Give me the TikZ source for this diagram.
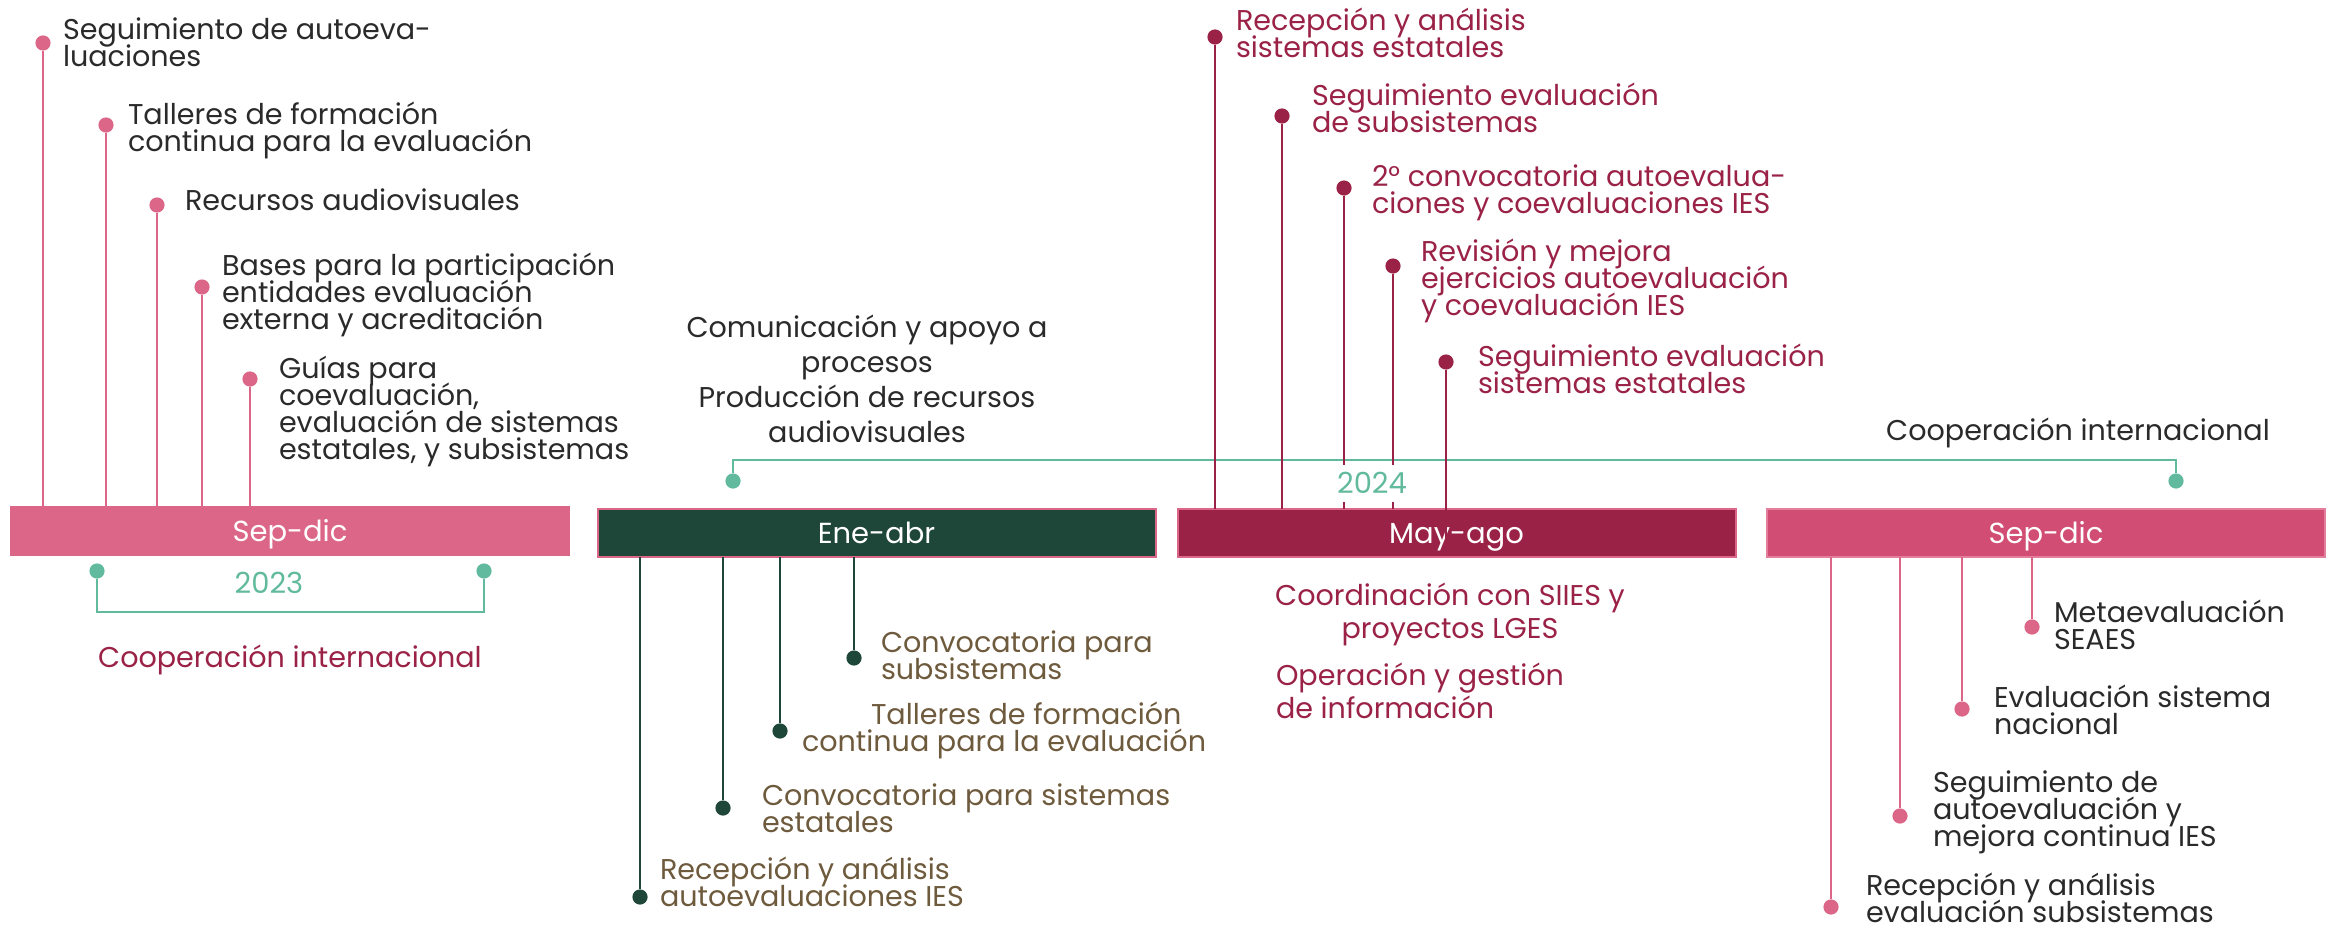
\documentclass[tikz,border=0pt]{standalone}
\usepackage{fontspec}
\setmainfont{Poppins}
\definecolor{pk}{HTML}{DC6688}
\definecolor{pkf}{HTML}{D14D73}
\definecolor{pkb}{HTML}{E37F9C}
\definecolor{mr}{HTML}{9B2247}
\definecolor{dg}{HTML}{1E4639}
\definecolor{gr}{HTML}{62BA9E}
\definecolor{br}{HTML}{6E5A3C}
\definecolor{tx}{HTML}{2A2A2A}
\newcommand\tlsk{\lineskiplimit=-20pt\relax}
\begin{document}
\begin{tikzpicture}[x=0.5pt,y=-0.5pt,
  every node/.style={inner sep=0pt,outer sep=0pt},
  lbl/.style={font=\fontsize{14.3}{13.4}\selectfont\tlsk,align=left,anchor=base west},
  clbl/.style={font=\fontsize{14.3}{17.5}\selectfont\tlsk,align=center,anchor=base},
  one/.style={font=\fontsize{14.3}{13}\selectfont,anchor=base},
  dotn/.style={circle,minimum size=7.6pt,fill=#1},
  barn/.style={rectangle,minimum width=279pt,minimum height=24pt,text=white,font=\fontsize{14.5}{15}\selectfont,text height=10.2pt,text depth=0pt},
  stem/.style={line width=1.25pt,draw=#1},
  conn/.style={line width=1.1pt,draw=gr},
  yr/.style={font=\fontsize{14.5}{15}\selectfont,text=gr,anchor=base}
]
\useasboundingbox[fill=white] (0,0) rectangle (2331,926);

% ---------- Section 1: Sep-dic 2023 ----------
\node[barn,fill=pk,minimum width=280pt,minimum height=25pt] (bar1) at (290,531) {Sep-dic};
\node[dotn=pk] (a1) at (43,43) {};
\node[dotn=pk] (a2) at (106,125) {};
\node[dotn=pk] (a3) at (157,205) {};
\node[dotn=pk] (a4) at (202,287) {};
\node[dotn=pk] (a5) at (250,379) {};
\foreach \n in {a1,a2,a3,a4,a5} {\draw[stem=pk] (\n) -- (\n |- bar1.north);}
% base anchor = baseline of last line
\node[lbl,text=tx] (ta1) at (63,66) {Seguimiento de autoeva-\\luaciones};
\node[lbl,text=tx] (ta2) at (128,151) {Talleres de formación\\continua para la evaluación};
\node[lbl,text=tx] (ta3) at (185,210) {Recursos audiovisuales};
\node[lbl,text=tx] (ta4) at (222,329) {Bases para la participación\\entidades evaluación\\externa y acreditación};
\node[lbl,text=tx] (ta5) at (279,459) {Guías para\\coevaluación,\\evaluación de sistemas\\estatales, y subsistemas};

\node[dotn=gr] (b1) at (97,571) {};
\node[dotn=gr] (b2) at (484,571) {};
\draw[conn] (b1) -- ++(0,41) -| (b2);
\node[yr] (y23) at (269,593) {2023};
\node[one,text=mr] (ci1) at (290,667) {Cooperación internacional};

% ---------- Section 2: Ene-abr ----------
\node[barn,fill=dg,draw=pk,line width=1pt] (bar2) at (876.5,533) {Ene-abr};
\node[dotn=dg] (c1) at (640,897) {};
\node[dotn=dg] (c2) at (723,808) {};
\node[dotn=dg] (c3) at (780,731) {};
\node[dotn=dg] (c4) at (854,658) {};
\foreach \n in {c1,c2,c3,c4} {\draw[stem=dg] (\n |- bar2.south) -- (\n);}
\node[lbl,text=br] (tc4) at (881,679) {Convocatoria para\\subsistemas};
\node[lbl,text=br] (tc3) at (802,751) {\hspace*{34.5pt}Talleres de formación\\continua para la evaluación};
\node[lbl,text=br] (tc2) at (762,832) {Convocatoria para sistemas\\estatales};
\node[lbl,text=br] (tc1) at (660,906) {Recepción y análisis\\autoevaluaciones IES};
\node[clbl,text=tx] (com) at (867,442) {Comunicación y apoyo a\\procesos\\Producción de recursos\\audiovisuales};

\node[dotn=gr] (g1) at (733,481) {};
\node[dotn=gr] (g2) at (2176,481) {};
\draw[conn] (g1) -- ++(0,-21) -| (g2);
\node[one,text=tx] (ci2) at (2078,440) {Cooperación internacional};

% ---------- Section 3: May-ago ----------
\node[barn,fill=mr,draw=pk,line width=1pt] (bar3) at (1456.5,533) {May-ago};
\node[dotn=mr] (m1) at (1215,37) {};
\node[dotn=mr] (m2) at (1282,116) {};
\node[dotn=mr] (m3) at (1344,188) {};
\node[dotn=mr] (m4) at (1393,266) {};
\node[dotn=mr] (m5) at (1446,362) {};
\foreach \n in {m1,m2,m3,m4} {\draw[stem=mr] (\n) -- (\n |- bar3.north);}
\draw[stem=mr] (m5) -- ([yshift=1pt]m5 |- bar3.south);
\node[yr,fill=white,inner xsep=3pt,text height=14pt,text depth=4.5pt] (y24) at (1372,493) {2024};
\node[lbl,text=mr] (tm1) at (1236,57) {Recepción y análisis\\sistemas estatales};
\node[lbl,text=mr] (tm2) at (1312,132) {Seguimiento evaluación\\de subsistemas};
\node[lbl,text=mr] (tm3) at (1372,213) {2° convocatoria autoevalua-\\ciones y coevaluaciones IES};
\node[lbl,text=mr] (tm4) at (1421,315) {Revisión y mejora\\ejercicios autoevaluación\\y coevaluación IES};
\node[lbl,text=mr] (tm5) at (1478,393) {Seguimiento evaluación\\sistemas estatales};
\node[font=\fontsize{14.3}{16.5}\selectfont\tlsk,align=center,anchor=base,text=mr] (coord) at (1450,638) {Coordinación con SIIES y\\proyectos LGES};
\node[font=\fontsize{14.3}{16.5}\selectfont\tlsk,align=left,anchor=base west,text=mr] (oper) at (1276,718) {Operación y gestión\\de información};

% ---------- Section 4: Sep-dic 2024 ----------
\node[barn,fill=pkf,draw=pkb,line width=1pt] (bar4) at (2046,533) {Sep-dic};
\node[dotn=pk] (p1) at (1831,907) {};
\node[dotn=pk] (p2) at (1900,816) {};
\node[dotn=pk] (p3) at (1962,709) {};
\node[dotn=pk] (p4) at (2032,627) {};
\foreach \n in {p1,p2,p3,p4} {\draw[stem=pk] (\n |- bar4.south) -- (\n);}
\node[lbl,text=tx] (tp4) at (2054,649) {Metaevaluación\\SEAES};
\node[lbl,text=tx] (tp3) at (1994,734) {Evaluación sistema\\nacional};
\node[lbl,text=tx] (tp2) at (1933,846) {Seguimiento de\\autoevaluación y\\mejora continua IES};
\node[lbl,text=tx] (tp1) at (1866,922) {Recepción y análisis\\evaluación subsistemas};
\end{tikzpicture}
\end{document}
